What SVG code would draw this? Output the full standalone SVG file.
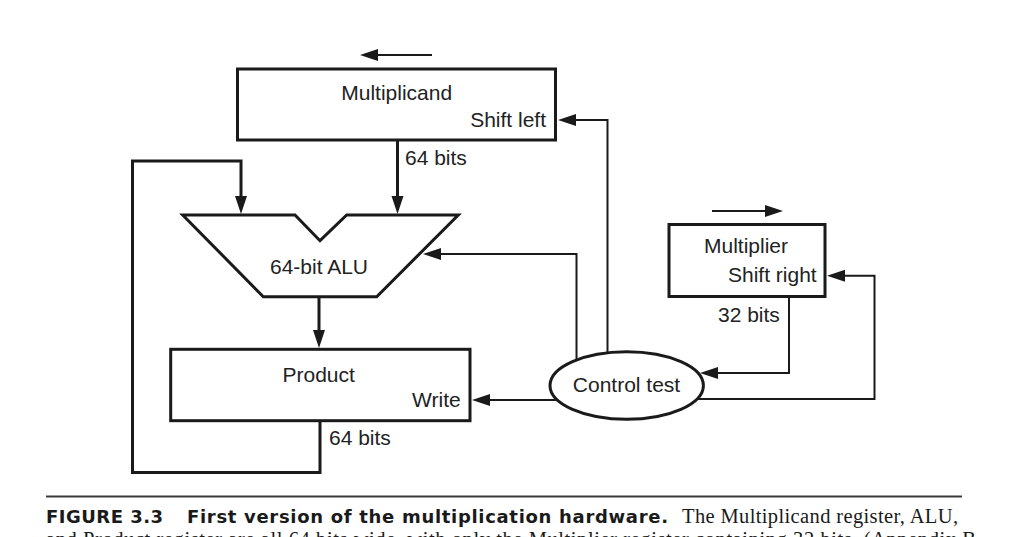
<svg xmlns="http://www.w3.org/2000/svg" width="1024" height="537" viewBox="0 0 1024 537">
<defs>
<style>
.box{fill:#fff;stroke:#1a1a1a;stroke-width:3}
.lbl{font-family:"Liberation Sans",Arial,sans-serif;font-size:21px;fill:#222}
.mid{text-anchor:middle}
.end{text-anchor:end}
.thick{fill:none;stroke:#1a1a1a;stroke-width:3;marker-end:url(#ah)}
.thin{fill:none;stroke:#1a1a1a;stroke-width:2;marker-end:url(#ah)}
.cap{font-family:"DejaVu Sans","Liberation Sans",sans-serif;font-weight:bold;font-size:18px;fill:#1a1a1a}
.capser{font-family:"Liberation Serif","Times New Roman",serif;font-size:20.5px;fill:#1a1a1a}
</style>
<marker id="ah" markerUnits="userSpaceOnUse" markerWidth="20" markerHeight="14" refX="10" refY="6" orient="auto">
<path d="M0,0 L18,6 L0,12 z" fill="#1a1a1a"/>
</marker>
</defs>
<rect width="1024" height="537" fill="#fff"/>
<g id="connectors">
<path class="thick" d="M397.5,140 V206"/>
<path class="thick" d="M320,420.7 V472.5 H132.5 V161 H241 V206"/>
<path class="thick" d="M319,297 V340"/>
<path class="thin" d="M607.5,360 V120 H566"/>
<path class="thin" d="M576.5,365 V254 H431"/>
<path class="thin" d="M565,400 H480"/>
<path class="thin" d="M789,297 V373 H708"/>
<path class="thin" d="M690,399 H874.5 V275.7 H835"/>
<path class="thin" d="M432,55 H368"/>
<path class="thin" d="M712,211 H775"/>
<text class="lbl" x="405" y="165">64 bits</text>
<text class="lbl" x="329" y="445">64 bits</text>
<text class="lbl" x="718" y="322">32 bits</text>
</g>
<g id="multiplicand">
<rect class="box" x="237.5" y="69" width="318" height="71"/>
<text class="lbl mid" x="396.7" y="100">Multiplicand</text>
<text class="lbl end" x="546" y="127">Shift left</text>
</g>
<g id="alu">
<polygon class="box" points="182.7,215 295,215 320,240.7 346.7,215 458.3,215 376.7,296.7 263.3,296.7"/>
<text class="lbl mid" x="319" y="274">64-bit ALU</text>
</g>
<g id="product">
<rect class="box" x="170.7" y="349.3" width="299.3" height="71.4"/>
<text class="lbl mid" x="318.7" y="381.7">Product</text>
<text class="lbl end" x="460.7" y="407">Write</text>
</g>
<g id="multiplier">
<rect class="box" x="669" y="224.5" width="156" height="72"/>
<text class="lbl mid" x="746" y="253">Multiplier</text>
<text class="lbl end" x="816.7" y="281.7">Shift right</text>
</g>
<g id="control">
<ellipse class="box" cx="626.7" cy="385.5" rx="76.7" ry="33.8"/>
<text class="lbl mid" x="626.5" y="391.7">Control test</text>
</g>
<g id="caption">
<line x1="46" y1="496.5" x2="962" y2="496.5" stroke="#3a3a3a" stroke-width="2"/>
<text class="cap" x="46" y="523.3" textLength="117" lengthAdjust="spacing">FIGURE 3.3</text>
<text class="cap" x="187" y="523.3" textLength="481" lengthAdjust="spacing">First version of the multiplication hardware.</text>
<text class="capser" x="682" y="523.3" textLength="276" lengthAdjust="spacing">The Multiplicand register, ALU,</text>
<text class="capser" x="46" y="546" textLength="930" lengthAdjust="spacing">and Product register are all 64 bits wide, with only the Multiplier register containing 32 bits. (Appendix B</text>
</g>
</svg>
